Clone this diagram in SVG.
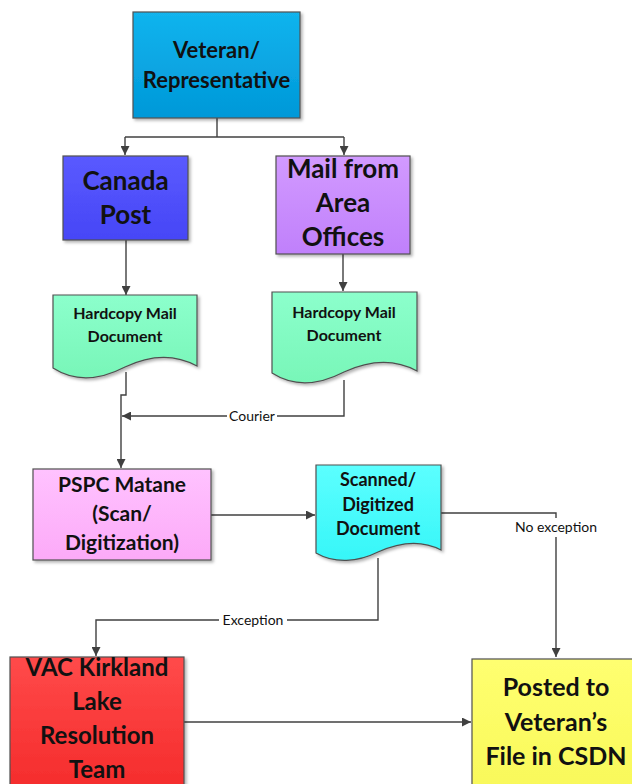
<svg xmlns="http://www.w3.org/2000/svg" width="632" height="784" viewBox="0 0 632 784">
<defs>
<style>
.n{stroke:#505050;stroke-width:1.2}
.t{font-family:Lato,"Open Sans","Liberation Sans",sans-serif;font-weight:bold;fill:#111;text-anchor:middle}
.c{fill:none;stroke:#404040;stroke-width:1.4}
.l{font-family:Lato,"Open Sans","Liberation Sans",sans-serif;font-size:14px;fill:#111;text-anchor:middle}
.bg{fill:#fff}
</style>
<marker id="a" viewBox="0 0 10 10" refX="10" refY="5" markerWidth="9" markerHeight="9" markerUnits="userSpaceOnUse" orient="auto"><path d="M0,0 L10,5 L0,10 Z" fill="#404040"/></marker>
<filter id="s" x="-10%" y="-10%" width="130%" height="130%"><feDropShadow dx="2" dy="2" stdDeviation="1.5" flood-color="#000" flood-opacity="0.3"/></filter>
<linearGradient id="g1" x1="0" y1="0" x2="0" y2="1"><stop offset="0" stop-color="#12b4ee"/><stop offset="1" stop-color="#0098d8"/></linearGradient>
<linearGradient id="g2" x1="0" y1="0" x2="0" y2="1"><stop offset="0" stop-color="#5a5aff"/><stop offset="1" stop-color="#4646f6"/></linearGradient>
<linearGradient id="g3" x1="0" y1="0" x2="0" y2="1"><stop offset="0" stop-color="#d29aff"/><stop offset="1" stop-color="#c080fb"/></linearGradient>
<linearGradient id="g4" x1="0" y1="0" x2="0" y2="1"><stop offset="0" stop-color="#8cffcc"/><stop offset="1" stop-color="#78f6b8"/></linearGradient>
<linearGradient id="g5" x1="0" y1="0" x2="0" y2="1"><stop offset="0" stop-color="#ffc2ff"/><stop offset="1" stop-color="#fcaaf8"/></linearGradient>
<linearGradient id="g6" x1="0" y1="0" x2="0" y2="1"><stop offset="0" stop-color="#5cffff"/><stop offset="1" stop-color="#36f6f8"/></linearGradient>
<linearGradient id="g7" x1="0" y1="0" x2="0" y2="1"><stop offset="0" stop-color="#ff4a4a"/><stop offset="1" stop-color="#f42a2a"/></linearGradient>
<linearGradient id="g8" x1="0" y1="0" x2="0" y2="1"><stop offset="0" stop-color="#ffff70"/><stop offset="1" stop-color="#f8f858"/></linearGradient>
</defs>
<rect width="632" height="784" fill="#fff"/>
<g id="connectors">
<path class="c" d="M217,118 V137"/>
<path class="c" d="M125,137 H344"/>
<path class="c" d="M125,137 V155" marker-end="url(#a)"/>
<path class="c" d="M344,137 V155" marker-end="url(#a)"/>
<path class="c" d="M126,240 V295" marker-end="url(#a)"/>
<path class="c" d="M343,254 V291" marker-end="url(#a)"/>
<path class="c" d="M126,372 V395 H121 V468" marker-end="url(#a)"/>
<path class="c" d="M344,380 V416 H122" marker-end="url(#a)"/>
<rect class="bg" x="227" y="407" width="50" height="18"/>
<text class="l" x="252" y="421">Courier</text>
<path class="c" d="M441,513 H556 V657" marker-end="url(#a)"/>
<rect class="bg" x="512" y="518" width="88" height="19"/>
<text class="l" x="556" y="532">No exception</text>
<path class="c" d="M211,515 H315" marker-end="url(#a)"/>
<path class="c" d="M378,558 V620 H96 V656" marker-end="url(#a)"/>
<rect class="bg" x="219" y="611" width="68" height="18"/>
<text class="l" x="253" y="625">Exception</text>
<path class="c" d="M184,722 H471" marker-end="url(#a)"/>
</g>
<g id="veteran">
<rect class="n" x="133" y="12" width="167" height="106" fill="url(#g1)" filter="url(#s)"/>
<text class="t" font-size="22"><tspan x="216.5" y="58">Veteran/</tspan><tspan x="216.5" y="88">Representative</tspan></text>
</g>
<g id="canada-post">
<rect class="n" x="63" y="156" width="125" height="84" fill="url(#g2)" filter="url(#s)"/>
<text class="t" font-size="26"><tspan x="125.5" y="190">Canada</tspan><tspan x="125.5" y="224">Post</tspan></text>
</g>
<g id="mail-area">
<rect class="n" x="276" y="156" width="134" height="98" fill="url(#g3)" filter="url(#s)"/>
<text class="t" font-size="26"><tspan x="343" y="178">Mail from</tspan><tspan x="343" y="212">Area</tspan><tspan x="343" y="246">Offices</tspan></text>
</g>
<g id="hardcopy-1">
<path class="n" d="M53,295 H197 V366 C175,354 150,355 125,367 C100,380 75,382 53,368 Z" fill="url(#g4)" filter="url(#s)"/>
<text class="t" font-size="16"><tspan x="125" y="319">Hardcopy Mail</tspan><tspan x="125" y="342">Document</tspan></text>
</g>
<g id="hardcopy-2">
<path class="n" d="M272,292 H417 V371 C395,359 370,360 344,372 C319,385 294,387 272,373 Z" fill="url(#g4)" filter="url(#s)"/>
<text class="t" font-size="16"><tspan x="344" y="318">Hardcopy Mail</tspan><tspan x="344" y="341">Document</tspan></text>
</g>
<g id="pspc">
<rect class="n" x="33" y="469" width="178" height="91" fill="url(#g5)" filter="url(#s)"/>
<text class="t" font-size="21"><tspan x="122" y="492">PSPC Matane</tspan><tspan x="122" y="521">(Scan/</tspan><tspan x="122" y="550">Digitization)</tspan></text>
</g>
<g id="scanned">
<path class="n" d="M316,465 H441 V550 C422,540 400,542 378,552 C358,562 335,564 316,553 Z" fill="url(#g6)" filter="url(#s)"/>
<text class="t" font-size="18"><tspan x="378" y="486">Scanned/</tspan><tspan x="378" y="511">Digitized</tspan><tspan x="378" y="535">Document</tspan></text>
</g>
<g id="vac">
<rect class="n" x="10" y="657" width="174" height="140" fill="url(#g7)" filter="url(#s)"/>
<text class="t" font-size="24"><tspan x="97" y="676">VAC Kirkland</tspan><tspan x="97" y="710">Lake</tspan><tspan x="97" y="744">Resolution</tspan><tspan x="97" y="778">Team</tspan></text>
</g>
<g id="posted">
<rect class="n" x="472" y="659" width="170" height="140" fill="url(#g8)" filter="url(#s)"/>
<text class="t" font-size="25"><tspan x="556" y="696">Posted to</tspan><tspan x="556" y="731">Veteran’s</tspan><tspan x="556" y="765">File in CSDN</tspan></text>
</g>
</svg>
